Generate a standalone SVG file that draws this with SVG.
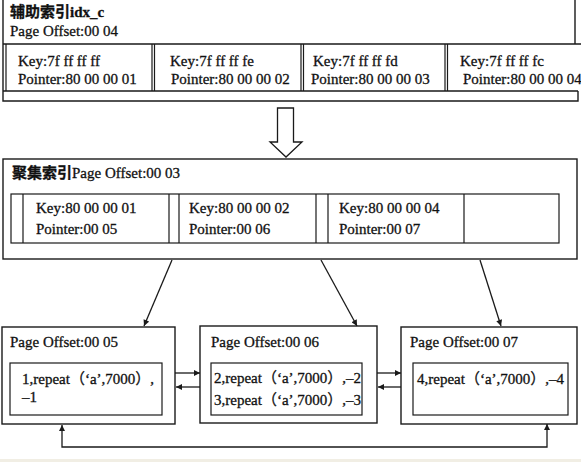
<svg xmlns="http://www.w3.org/2000/svg" width="581" height="462" viewBox="0 0 581 462">
<style>
  .bx { fill: none; stroke: #1a1a1a; stroke-width: 1.4; }
  .ln { fill: none; stroke: #1a1a1a; stroke-width: 1.2; }
  .t { font-family: "Liberation Serif", "Noto Sans CJK SC", serif; font-size: 15px; fill: #111; stroke: #111; stroke-width: 0.3; }
  .h { font-weight: bold; }
  .c { stroke: #1a1a1a; stroke-width: 1.3; fill: none; }
</style>
<defs>
  <marker id="ah" viewBox="0 0 10 10" refX="10" refY="5" markerWidth="8" markerHeight="6" markerUnits="userSpaceOnUse" orient="auto-start-reverse">
    <path d="M0,0 L10,5 L0,10 Z" fill="#1a1a1a"/>
  </marker>
</defs>
<rect x="0" y="0" width="581" height="462" fill="#ffffff"/>
<rect x="0" y="459" width="581" height="3" fill="#f1eee4"/>

<g id="secondary-index">
  <path class="bx" d="M3,-1 V101 H578 V91 M575,-1 V44 M3,44 H581 M3,91 H578"/>
  <path class="ln" d="M6,44 V91 M152,44 V91 M154.5,44 V91 M301,44 V91 M303.5,44 V91 M445,44 V91 M447.5,44 V91"/>
  <text class="t h" x="10" y="17">辅助索引idx_c</text>
  <text class="t" x="10" y="36">Page Offset:00 04</text>
  <text class="t" x="18" y="66">Key:7f ff ff ff</text>
  <text class="t" x="18" y="84">Pointer:80 00 00 01</text>
  <text class="t" x="170" y="66">Key:7f ff ff fe</text>
  <text class="t" x="171" y="84">Pointer:80 00 00 02</text>
  <text class="t" x="313" y="66">Key:7f ff ff fd</text>
  <text class="t" x="311" y="84">Pointer:80 00 00 03</text>
  <text class="t" x="460" y="66">Key:7f ff ff fc</text>
  <text class="t" x="463" y="84">Pointer:80 00 00 04</text>
</g>

<g id="clustered-index">
  <rect class="bx" x="3" y="159" width="574" height="100"/>
  <rect class="ln" x="11" y="194" width="548" height="49"/>
  <path class="ln" d="M23,194 V243 M169,194 V243 M179,194 V243 M316,194 V243 M328,194 V243 M464,194 V243"/>
  <text class="t" x="12" y="178"><tspan class="h">聚集索引</tspan>Page Offset:00 03</text>
  <text class="t" x="36" y="213">Key:80 00 00 01</text>
  <text class="t" x="36" y="234">Pointer:00 05</text>
  <text class="t" x="189" y="213">Key:80 00 00 02</text>
  <text class="t" x="189" y="234">Pointer:00 06</text>
  <text class="t" x="339" y="213">Key:80 00 00 04</text>
  <text class="t" x="339" y="234">Pointer:00 07</text>
</g>

<g id="page-05">
  <rect class="bx" x="2" y="327" width="173" height="97"/>
  <rect class="ln" x="10" y="363" width="152" height="52"/>
  <text class="t" x="10" y="347">Page Offset:00 05</text>
  <text class="t" x="22" y="384">1,repeat（‘a’,7000）,</text>
  <text class="t" x="22" y="402">–1</text>
</g>

<g id="page-06">
  <rect class="bx" x="200" y="326" width="177" height="97"/>
  <rect class="ln" x="211" y="363" width="151" height="52"/>
  <text class="t" x="211" y="347">Page Offset:00 06</text>
  <text class="t" x="214" y="383">2,repeat（‘a’,7000）,–2</text>
  <text class="t" x="214" y="405">3,repeat（‘a’,7000）,–3</text>
</g>

<g id="page-07">
  <rect class="bx" x="401" y="327" width="176" height="97"/>
  <rect class="ln" x="413" y="363" width="155" height="52"/>
  <text class="t" x="410" y="347">Page Offset:00 07</text>
  <text class="t" x="417" y="384">4,repeat（‘a’,7000）,–4</text>
</g>

<g id="connectors">
  <polygon class="c" fill="#fff" points="277.5,108 293.5,108 293.5,142 302,142 286,157 270,142 277.5,142"/>
  <line class="c" x1="172" y1="260" x2="144" y2="326" marker-end="url(#ah)"/>
  <line class="c" x1="321" y1="260" x2="357" y2="326" marker-end="url(#ah)"/>
  <line class="c" x1="480" y1="260" x2="501" y2="326" marker-end="url(#ah)"/>
  <line class="c" x1="175" y1="373" x2="200" y2="373" marker-end="url(#ah)"/>
  <line class="c" x1="200" y1="387" x2="176" y2="387" marker-end="url(#ah)"/>
  <line class="c" x1="377" y1="373" x2="401" y2="373" marker-end="url(#ah)"/>
  <line class="c" x1="401" y1="387" x2="378" y2="387" marker-end="url(#ah)"/>
  <path class="c" d="M62,425 V447 H547 V424" marker-start="url(#ah)" marker-end="url(#ah)"/>
</g>
</svg>
